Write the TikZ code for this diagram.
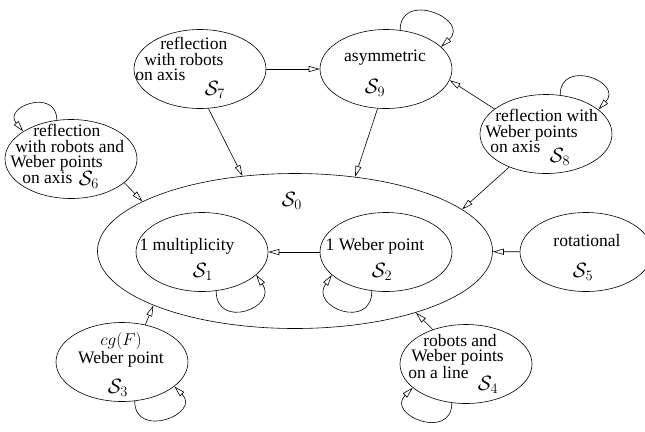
\documentclass[tikz,border=0pt]{standalone}
\usepackage{fontspec}
\setmainfont{Liberation Serif}
\newfontfamily\descfont{Liberation Serif}
\usepackage{amsmath}
\usetikzlibrary{shapes.geometric,arrows.meta}
\tikzstyle{sgraph}=[
  x=1bp,y=1bp,line width=0.6bp,>={Triangle[open,length=11bp,width=6bp]}
]
\tikzstyle{stnode}=[
  draw,ellipse,inner sep=0pt,minimum width=132bp,minimum height=79bp
]
\tikzstyle{bigstate}=[
  stnode,minimum width=395bp,minimum height=155bp
]
\tikzstyle{desc}=[
  inner sep=0pt,font=\descfont\fontsize{17.5bp}{15.5bp}\selectfont
]
\tikzstyle{sname}=[
  inner sep=0pt,font=\fontsize{20bp}{20bp}\selectfont
]
\tikzstyle{trans}=[->]
\tikzstyle{selfloop}=[->,looseness=2.35]
\newcommand{\Sc}[1]{$\mathcal{S}_{#1}$}

\begin{document}
\begin{tikzpicture}[sgraph]
        \useasboundingbox (0,0) rectangle (645,-431);
        % states
        \node (s0) at (295,-251) [bigstate] {};
        \node (s1) at (202,-252) [stnode] {};
        \node (s2) at (386,-252) [stnode] {};
        \node (s3) at (122,-362) [stnode] {};
        \node (s4) at (466,-364) [stnode] {};
        \node (s5) at (586,-252) [stnode] {};
        \node (s6) at (71,-159) [stnode] {};
        \node (s7) at (200,-69) [stnode] {};
        \node (s8) at (546,-134) [stnode] {};
        \node (s9) at (386,-69) [stnode] {};

        % what each state says
        \node (t1) at (187,-250) [desc,anchor=base] {1 multiplicity};
        \node (t2) at (375,-250) [desc,anchor=base] {1 Weber point};
        \node (t3) at (121,-350) [desc,align=center] {$cg(F)$\\Weber point};
        \node (t4) at (408,-334) [desc,anchor=north west,align=left]
          {\hspace*{15bp}robots and\\\hspace*{3bp}Weber points\\on a line};
        \node (t5) at (587,-246) [desc,anchor=base] {rotational};
        \node (t6) at (10,-124) [desc,anchor=north west,align=left]
          {\hspace*{23bp}reflection\\\hspace*{5bp}with robots and\\Weber points\\\hspace*{12bp}on axis};
        \node (t7) at (135,-37) [desc,anchor=north west,align=left]
          {\hspace*{25bp}reflection\\\hspace*{9bp}with robots\\on axis};
        \node (t8) at (485,-109) [desc,anchor=north west,align=left]
          {\hspace*{10bp}reflection with\\Weber points\\\hspace*{5bp}on axis};
        \node (t9) at (385,-61) [desc,anchor=base] {asymmetric};

        % names
        \node (l0) at (292,-201) [sname] {\Sc{0}};
        \node (l1) at (203,-272) [sname] {\Sc{1}};
        \node (l2) at (382,-272) [sname] {\Sc{2}};
        \node (l3) at (118,-388) [sname] {\Sc{3}};
        \node (l4) at (488,-385) [sname] {\Sc{4}};
        \node (l5) at (583,-272) [sname] {\Sc{5}};
        \node (l6) at (89,-180) [sname] {\Sc{6}};
        \node (l7) at (215,-90) [sname] {\Sc{7}};
        \node (l8) at (560,-157) [sname] {\Sc{8}};
        \node (l9) at (375,-88) [sname] {\Sc{9}};

        % transitions
        \draw [trans] (s7) -- (s9);
        \draw [trans] (s7.-78) -- (s0.125);
        \draw [trans] (s9.-102) -- (s0.51);
        \draw [trans] (s8.-138) -- (s0.14);
        \draw [trans] (s8.154) -- (s9.-10);
        \draw [trans] (s6.-24) -- (s0.162);
        \draw [trans] (s5) -- (s0);
        \draw [trans] (s2) -- (s1);
        \draw [trans] (s3.58) -- (s0.201);
        \draw [trans] (s4.134) -- (s0.-27);

        % self loops
        \draw [selfloop] (s9.70) to [out=90,in=42] (s9.22);
        \draw [selfloop] (s8.70) to [out=90,in=47] (s8.25);
        \draw [selfloop] (s6.110) to [out=90,in=130] (s6.150);
        \draw [selfloop] (s1.-70) to [out=-90,in=-55] (s1.-23);
        \draw [selfloop] (s2.-110) to [out=-90,in=-125] (s2.-157);
        \draw [selfloop] (s3.-72) to [out=-90,in=-45] (s3.-25);
        \draw [selfloop] (s4.-110) to [out=-90,in=-135] (s4.-156);
\end{tikzpicture}
\end{document}
